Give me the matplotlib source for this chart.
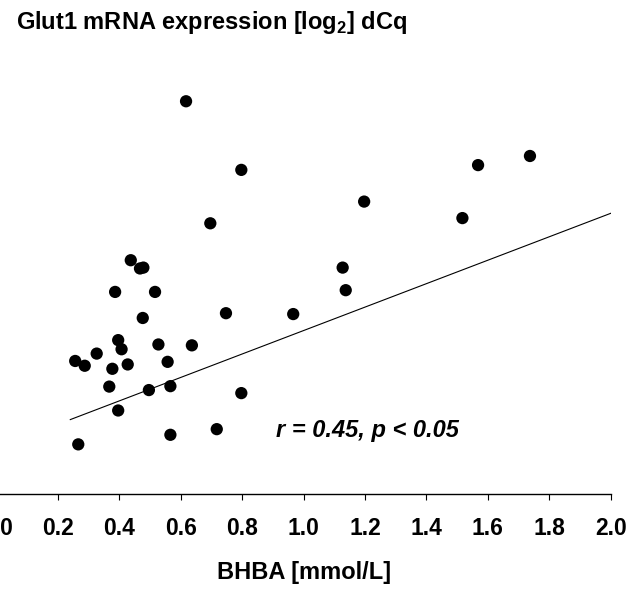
import numpy as np
import matplotlib
matplotlib.use('Agg')
import matplotlib.pyplot as plt

plt.rcParams['font.family'] = 'Liberation Sans'
plt.rcParams['mathtext.fontset'] = 'custom'
plt.rcParams['mathtext.rm'] = 'Liberation Sans:bold'
plt.rcParams['mathtext.bf'] = 'Liberation Sans:bold'

# BHBA (mmol/L) vs Glut1 expression
bhba = [0.617, 0.797, 0.696, 0.437, 0.467, 0.478, 0.386, 0.516, 0.747, 0.966,
        0.476, 0.396, 0.407, 0.527, 0.636, 0.326, 0.256, 0.287, 0.427, 0.557,
        0.377, 0.367, 0.496, 0.566, 0.797, 0.396, 0.566, 0.717, 0.266, 1.197,
        1.568, 1.737, 1.517, 1.127, 1.137]
glut1 = [9.05, 7.47, 6.24, 5.39, 5.20, 5.22, 4.66, 4.66, 4.17, 4.15,
         4.06, 3.55, 3.34, 3.45, 3.43, 3.24, 3.07, 2.96, 2.99, 3.05,
         2.89, 2.48, 2.40, 2.49, 2.33, 1.93, 1.37, 1.50, 1.15, 6.74,
         7.58, 7.79, 6.36, 5.22, 4.70]

# regression line end points
fit_x = [0.24, 2.0]
fit_y = [1.72, 6.47]

xticks = [0.0, 0.2, 0.4, 0.6, 0.8, 1.0, 1.2, 1.4, 1.6, 1.8, 2.0]
xtick_labels = ['0.0', '0.2', '0.4', '0.6', '0.8', '1.0', '1.2', '1.4', '1.6', '1.8', '2.0']

fig = plt.figure(figsize=(6.43, 5.90), dpi=100)
ax = fig.add_axes([-0.0053, 0.1622, 0.9551, 0.7361])

ax.scatter(bhba, glut1, s=78, color='black', edgecolors='none', zorder=3, clip_on=False)
ax.plot(fit_x, fit_y, color='black', linewidth=0.8)

ax.text(0.91, 1.46, 'r = 0.45, p < 0.05', fontsize=17, fontweight='bold',
        fontstyle='italic', ha='left', va='center')

ax.set_xlim(0, 2.0)
ax.set_ylim(0, 10)
ax.set_xticks(xticks)
ax.set_xticklabels(xtick_labels, fontsize=16.5, fontweight='bold')
ax.set_yticks([])
for side in ['left', 'top', 'right']:
    ax.spines[side].set_visible(False)
ax.spines['bottom'].set_linewidth(1.0)
ax.tick_params(axis='x', direction='out', length=4.5, width=0.8, pad=12)

ax.set_xlabel('BHBA [mmol/L]', fontsize=17, fontweight='bold', labelpad=15)

fig.text(16 / 643, 1 - 29 / 590, r'Glut1 mRNA expression [log$_{2}$] dCq',
         fontsize=17, fontweight='bold', ha='left', va='baseline')

fig.savefig('out.png', dpi=100)
